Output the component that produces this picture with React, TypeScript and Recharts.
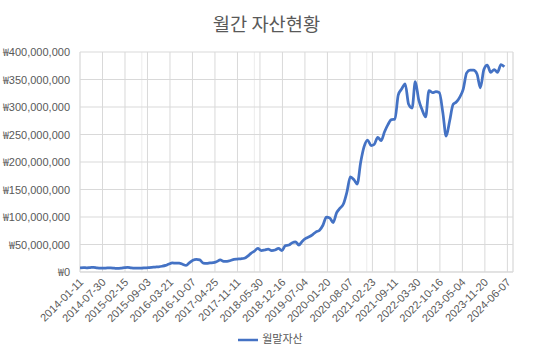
import React from "react";
import {
  LineChart,
  Line,
  XAxis,
  YAxis,
  CartesianGrid,
  Legend,
} from "recharts";

const DAY = 86400000;
const START = Date.UTC(2014, 0, 11);
const END = Date.UTC(2024, 6, 27);

// month-end assets (KRW), one point per month starting 2014-01
const assetValues = [
  7500000, 8000000, 7500000, 8000000, 8500000, 7500000, 7000000, 7000000, 7500000, 7500000,
  7000000, 6500000, 7000000, 8000000, 8500000, 7500000, 7000000, 7000000, 7000000, 7500000,
  8000000, 8500000, 9000000, 9500000, 10500000, 12000000, 14500000, 16500000, 16000000, 16000000,
  14000000, 12000000, 17000000, 21500000, 23000000, 22000000, 16000000, 15500000, 16500000, 17000000,
  19000000, 22000000, 19500000, 19500000, 21000000, 23000000, 23500000, 24000000, 25000000, 29000000,
  34000000, 38000000, 43000000, 39000000, 40000000, 41500000, 39000000, 40000000, 43000000, 39000000,
  48000000, 49000000, 53000000, 55000000, 49000000, 56000000, 61000000, 64000000, 68000000, 73000000,
  76000000, 85000000, 100000000, 98000000, 90000000, 108000000, 116000000, 124000000, 145000000, 173000000,
  168000000, 160000000, 200000000, 228000000, 240000000, 230000000, 232000000, 245000000, 239000000, 255000000,
  268000000, 277000000, 278000000, 322000000, 333000000, 342000000, 305000000, 298000000, 346000000, 313000000,
  295000000, 282000000, 330000000, 326000000, 328000000, 326000000, 290000000, 247000000, 275000000, 305000000,
  309000000, 318000000, 332000000, 362000000, 367000000, 367000000, 360000000, 335000000, 368000000, 376000000,
  363000000, 368000000, 363000000, 377000000, 373000000,
];

const yTicks = [0, 50000000, 100000000, 150000000, 200000000, 250000000, 300000000, 350000000, 400000000];
const majorTicks = Array.from({ length: 20 }, (_, i) => START + i * 200 * DAY);
const minorTicks = Array.from({ length: 78 }, (_, i) => START + i * 50 * DAY);

const data = assetValues.map((v, i) => ({ t: Date.UTC(2014, i, 11), value: v }));

const fmtDate = (t: number) => new Date(t).toISOString().slice(0, 10);

const TEXT = "#595959";
const FONT = "'Liberation Sans', 'Noto Sans CJK KR', sans-serif";
const KR_FONT = "'Noto Sans CJK KR', sans-serif";

const XTick = (props: any) => {
  const { x, y, payload } = props;
  return (
    <g transform={`translate(${x + 4},${y + 3})`}>
      <text x={0} y={0} textAnchor="end" fill={TEXT} fontSize={11} fontFamily={FONT} transform="rotate(-45)">
        {fmtDate(payload.value)}
      </text>
    </g>
  );
};

const YTick = (props: any) => {
  const { x, y, payload } = props;
  return (
    <text x={x} y={y} dy={4} textAnchor="end" fill={TEXT} fontSize={11} fontFamily={FONT}>
      <tspan fontFamily={KR_FONT} fontSize={10.5}>₩</tspan>
      {payload.value.toLocaleString("en-US")}
    </text>
  );
};

export default function App() {
  return (
    <div style={{ position: "relative", width: 533, height: 353, background: "#fff", fontFamily: FONT }}>
      <style>{`body{margin:0}`}</style>
      <div
        style={{
          position: "absolute",
          top: 10,
          left: 0,
          width: 533,
          textAlign: "center",
          fontSize: 18.7,
          lineHeight: "26px",
          color: TEXT,
          fontFamily: KR_FONT,
        }}
      >
        월간 자산현황
      </div>
      <LineChart width={533} height={353} data={data} margin={{ top: 52, right: 20, left: 0, bottom: 2 }}>
        <XAxis xAxisId="minor" type="number" dataKey="t" domain={[START, END]} ticks={minorTicks} hide allowDataOverflow />
        <CartesianGrid xAxisId="minor" horizontal={false} stroke="#ececec" strokeWidth={1} />
        <CartesianGrid stroke="#d9d9d9" strokeWidth={1} />
        <XAxis
          type="number"
          dataKey="t"
          domain={[START, END]}
          ticks={majorTicks}
          allowDataOverflow
          interval={0}
          height={63}
          tickLine={false}
          stroke="#d9d9d9"
          tick={<XTick />}
        />
        <YAxis
          domain={[0, 400000000]}
          ticks={yTicks}
          width={80}
          axisLine={false}
          tickLine={false}
          tickMargin={4}
          tick={<YTick />}
        />
        <Legend
          verticalAlign="bottom"
          height={16}
          iconType="plainline"
          iconSize={20}
          wrapperStyle={{ top: 330, left: 9, width: 533, fontSize: 11, fontFamily: KR_FONT }}
          formatter={(v: string) => <span style={{ color: TEXT }}>{v}</span>}
        />
        <Line
          type="monotone"
          dataKey="value"
          name="월말자산"
          stroke="#4472C4"
          strokeWidth={2.75}
          dot={false}
          isAnimationActive={false}
        />
      </LineChart>
    </div>
  );
}
